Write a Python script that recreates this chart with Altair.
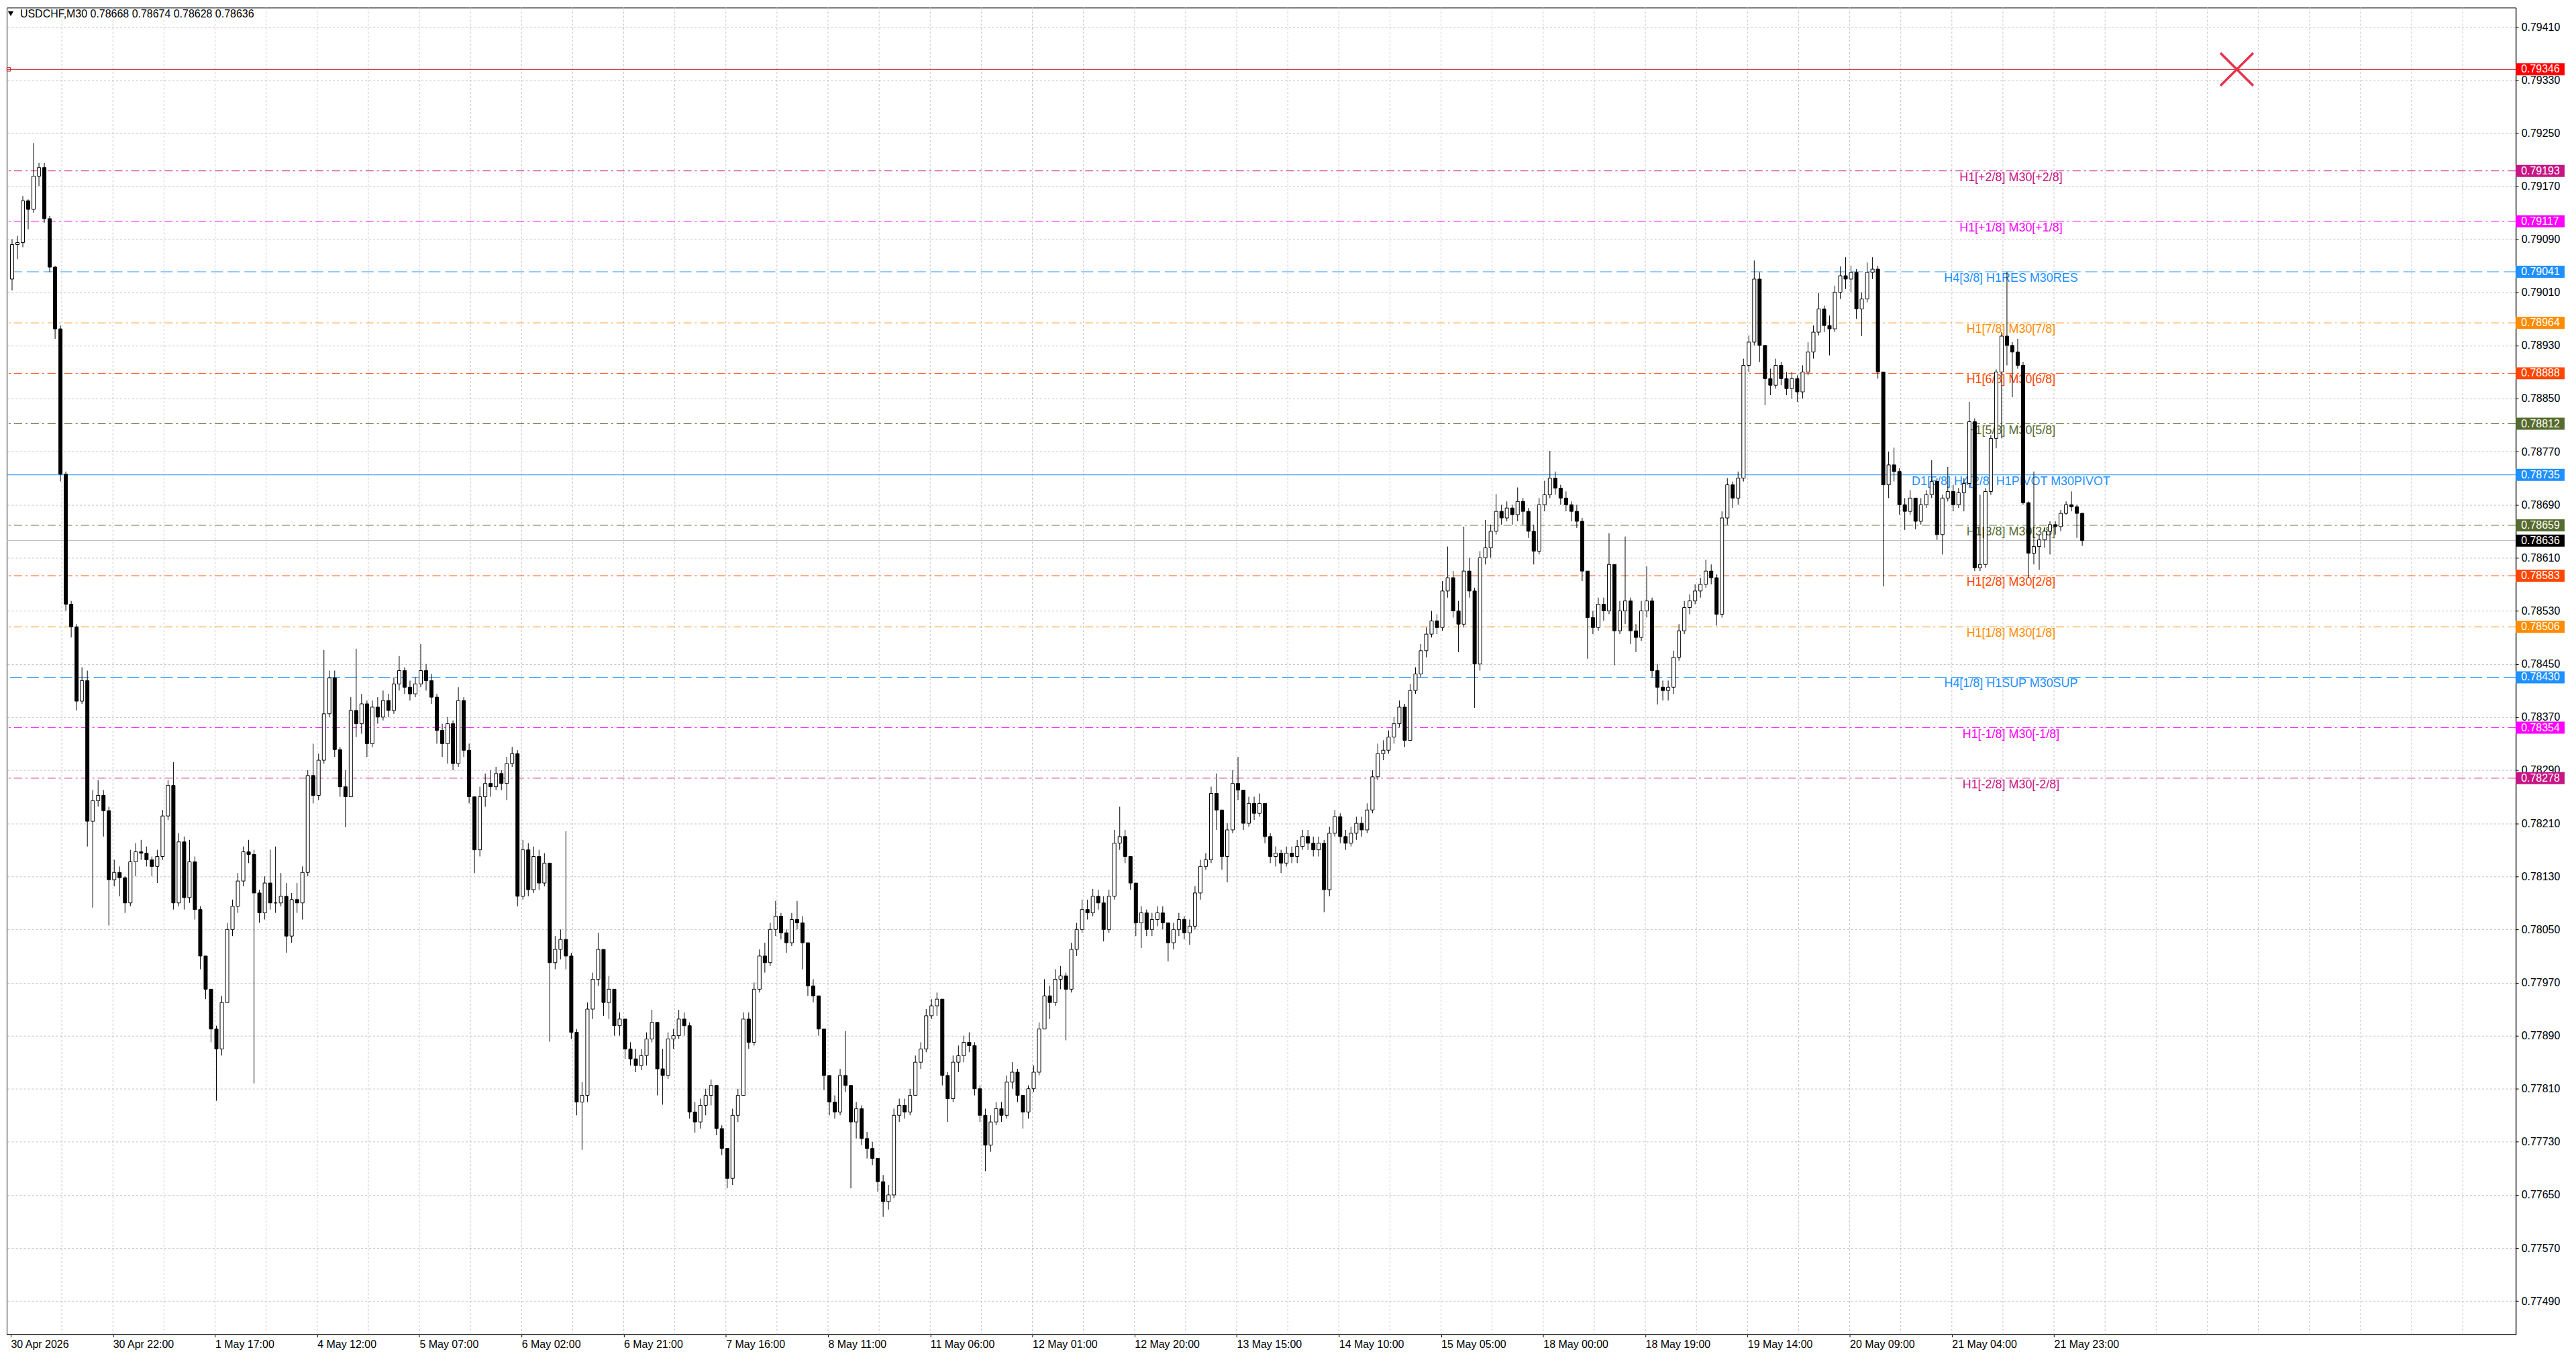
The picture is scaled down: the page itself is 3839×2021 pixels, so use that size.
import altair as alt
import pandas as pd

FONT = "Liberation Sans"
BASE = 0.77          # prices below are in points (0.00001) above 0.77000
PT = 0.00001

# ---- H1 candles (each spans two M30 slots); open = previous close ----
OPEN0 = 2030
CLOSE = [2082, 2085, 2148, 2135, 2185, 2198, 2121, 2048, 1955, 1736,
         1540, 1506, 1394, 1425, 1213, 1244, 1252, 1229, 1125, 1136,
         1128, 1090, 1152, 1167, 1165, 1155, 1145, 1160, 1221, 1267,
         1090, 1182, 1098, 1152, 1080, 1010, 960, 900, 870, 940,
         1050, 1085, 1123, 1167, 1163, 1105, 1075, 1120, 1090, 1090,
         1100, 1040, 1095, 1090, 1136, 1282, 1252, 1305, 1375, 1429,
         1321, 1265, 1250, 1380, 1360, 1390, 1330, 1385, 1370, 1395,
         1380, 1420, 1440, 1415, 1405, 1420, 1440, 1425, 1400, 1350,
         1330, 1360, 1300, 1395, 1320, 1250, 1170, 1250, 1270, 1265,
         1285, 1270, 1300, 1315, 1100, 1170, 1110, 1160, 1120, 1150,
         1000, 1020, 1035, 1010, 895, 790, 800, 930, 975, 1020,
         940, 960, 905, 915, 870, 855, 845, 860, 885, 910,
         840, 830, 885, 890, 915, 905, 775, 760, 785, 800,
         815, 750, 720, 675, 770, 800, 915, 880, 960, 1010,
         1000, 1050, 1070, 1045, 1030, 1065, 1060, 1030, 965, 950,
         900, 830, 790, 775, 830, 815, 760, 780, 735, 720,
         705, 670, 640, 650, 770, 785, 775, 800, 850, 870,
         920, 935, 945, 830, 795, 850, 860, 880, 875, 810,
         770, 725, 760, 780, 770, 820, 835, 800, 775, 810,
         835, 900, 950, 940, 975, 980, 960, 1020, 1050, 1080,
         1075, 1100, 1090, 1050, 1100, 1180, 1190, 1160, 1120, 1060,
         1075, 1050, 1065, 1075, 1060, 1030, 1050, 1065, 1045, 1055,
         1105, 1145, 1155, 1255, 1230, 1160, 1200, 1270, 1260, 1210,
         1240, 1225, 1240, 1190, 1160, 1165, 1150, 1165, 1160, 1175,
         1190, 1180, 1170, 1180, 1110, 1195, 1220, 1190, 1180, 1195,
         1210, 1200, 1230, 1280, 1315, 1320, 1340, 1360, 1385, 1335,
         1410, 1435, 1470, 1495, 1515, 1505, 1560, 1580, 1530, 1510,
         1590, 1560, 1450, 1610, 1625, 1650, 1680, 1670, 1685, 1675,
         1695, 1680, 1650, 1620, 1690, 1705, 1730, 1715, 1700, 1690,
         1680, 1665, 1590, 1520, 1505, 1540, 1530, 1600, 1500, 1530,
         1545, 1500, 1490, 1530, 1545, 1440, 1415, 1410, 1415, 1460,
         1500, 1535, 1545, 1560, 1570, 1590, 1580, 1525, 1670, 1720,
         1700, 1730, 1900, 1935, 2030, 1930, 1880, 1870, 1900, 1880,
         1865, 1880, 1860, 1890, 1920, 1950, 1985, 1960, 1955, 2010,
         2035, 2030, 2040, 1985, 2000, 2040, 2045, 1890, 1720, 1750,
         1740, 1690, 1680, 1700, 1665, 1690, 1705, 1725, 1645, 1700,
         1710, 1690, 1708, 1722, 1815, 1595, 1600, 1710, 1790, 1890,
         1944, 1930, 1920, 1900, 1693, 1617, 1627, 1637, 1650, 1660,
         1657, 1677, 1690, 1687, 1677, 1636]
HIGH = [2090, 2095, 2155, 2150, 2235, 2205, 2205, 2125, 2050, 1960,
        1740, 1545, 1510, 1445, 1440, 1260, 1275, 1260, 1235, 1155,
        1145, 1130, 1170, 1180, 1185, 1175, 1160, 1170, 1230, 1275,
        1302, 1195, 1190, 1185, 1160, 1085, 1000, 940, 905, 950,
        1060, 1095, 1135, 1175, 1185, 1170, 1110, 1130, 1170, 1175,
        1135, 1120, 1105, 1120, 1145, 1290, 1330, 1315, 1471, 1440,
        1440, 1325, 1290, 1400, 1473, 1405, 1395, 1395, 1400, 1410,
        1405, 1430, 1462, 1445, 1425, 1430, 1480, 1450, 1435, 1405,
        1360, 1370, 1365, 1415, 1400, 1330, 1250, 1265, 1285, 1290,
        1295, 1290, 1310, 1325, 1320, 1185, 1180, 1175, 1170, 1165,
        1150, 1040, 1050, 1198, 1015, 900, 820, 940, 985, 1045,
        1020, 980, 960, 925, 915, 880, 870, 870, 895, 929,
        905, 870, 895, 900, 929, 925, 910, 790, 795, 810,
        824, 815, 755, 720, 780, 810, 925, 925, 970, 1020,
        1030, 1060, 1093, 1075, 1050, 1075, 1093, 1070, 1000, 975,
        950, 900, 830, 800, 840, 897, 815, 790, 785, 745,
        730, 705, 680, 665, 780, 795, 795, 810, 860, 880,
        930, 945, 955, 945, 835, 860, 875, 890, 895, 880,
        815, 780, 770, 790, 790, 830, 850, 840, 800, 815,
        845, 910, 975, 965, 990, 995, 985, 1030, 1060, 1095,
        1095, 1111, 1110, 1100, 1110, 1200, 1235, 1200, 1160, 1120,
        1085, 1080, 1075, 1085, 1085, 1060, 1060, 1075, 1070, 1065,
        1115, 1155, 1165, 1265, 1285, 1230, 1210, 1290, 1310, 1260,
        1250, 1250, 1255, 1240, 1195, 1175, 1170, 1175, 1175, 1185,
        1200, 1200, 1190, 1190, 1185, 1205, 1230, 1225, 1200, 1205,
        1220, 1220, 1240, 1290, 1330, 1335, 1350, 1370, 1395, 1390,
        1420, 1445, 1480, 1505, 1530, 1525, 1575, 1627, 1590, 1545,
        1657, 1610, 1565, 1620, 1667, 1660, 1706, 1690, 1695, 1690,
        1716, 1700, 1685, 1660, 1700, 1726, 1771, 1740, 1720, 1710,
        1695, 1690, 1670, 1590, 1530, 1550, 1550, 1647, 1600, 1545,
        1642, 1550, 1510, 1545, 1597, 1550, 1450, 1425, 1425, 1470,
        1510, 1545, 1555, 1570, 1580, 1607, 1600, 1585, 1680, 1730,
        1725, 1740, 1910, 1945, 2058, 2040, 1930, 1895, 1910, 1905,
        1890, 1890, 1885, 1900, 1935, 1960, 2009, 1990, 1975, 2020,
        2049, 2063, 2050, 2045, 2010, 2055, 2063, 2050, 1890, 1770,
        1776, 1745, 1700, 1712, 1700, 1700, 1712, 1757, 1730, 1705,
        1747, 1720, 1715, 1730, 1845, 1820, 1705, 1715, 1795, 1894,
        1950, 2041, 1935, 1940, 1905, 1695, 1740, 1645, 1655, 1665,
        1665, 1682, 1695, 1710, 1690, 1678]
LOW = [2013, 2060, 2078, 2105, 2130, 2170, 2115, 2040, 1940, 1725,
       1530, 1490, 1380, 1390, 1175, 1083, 1235, 1190, 1056, 1115,
       1100, 1075, 1085, 1130, 1155, 1145, 1130, 1120, 1155, 1215,
       1080, 1085, 1080, 1090, 1065, 990, 945, 880, 792, 860,
       970, 1040, 1075, 1115, 1150, 818, 1060, 1065, 1080, 1075,
       1085, 1015, 1030, 1075, 1065, 1130, 1240, 1245, 1300, 1370,
       1310, 1250, 1204, 1260, 1340, 1345, 1310, 1325, 1360, 1365,
       1370, 1375, 1410, 1405, 1395, 1400, 1415, 1410, 1390, 1330,
       1310, 1300, 1290, 1295, 1310, 1240, 1135, 1160, 1235, 1250,
       1260, 1260, 1245, 1295, 1085, 1095, 1100, 1105, 1110, 1115,
       881, 990, 1005, 990, 885, 770, 718, 790, 915, 965,
       920, 915, 890, 890, 855, 845, 835, 838, 845, 880,
       800, 786, 825, 870, 885, 890, 765, 744, 750, 770,
       785, 740, 710, 660, 665, 760, 800, 870, 875, 955,
       985, 995, 1040, 1035, 1015, 1025, 1050, 990, 950, 940,
       890, 808, 770, 765, 770, 805, 660, 735, 725, 705,
       695, 655, 617, 628, 645, 760, 765, 770, 800, 840,
       865, 915, 920, 815, 760, 790, 835, 850, 865, 800,
       760, 686, 715, 755, 760, 765, 810, 790, 750, 765,
       805, 830, 900, 915, 935, 960, 883, 955, 1010, 1045,
       1065, 1070, 1080, 1032, 1045, 1095, 1170, 1150, 1110, 1040,
       1022, 1040, 1040, 1055, 1050, 1002, 1020, 1040, 1035, 1027,
       1050, 1095, 1140, 1150, 1200, 1140, 1121, 1195, 1245, 1200,
       1205, 1215, 1220, 1180, 1150, 1145, 1135, 1145, 1150, 1150,
       1170, 1170, 1160, 1160, 1076, 1100, 1190, 1180, 1170, 1175,
       1185, 1190, 1195, 1225, 1275, 1305, 1315, 1330, 1355, 1325,
       1335, 1405, 1430, 1460, 1490, 1495, 1500, 1550, 1520, 1468,
       1505, 1550, 1384, 1440, 1600, 1610, 1645, 1660, 1665, 1660,
       1665, 1660, 1640, 1600, 1615, 1680, 1700, 1705, 1690, 1680,
       1665, 1655, 1575, 1458, 1495, 1500, 1515, 1525, 1448, 1495,
       1510, 1480, 1468, 1485, 1520, 1430, 1389, 1395, 1395, 1405,
       1455, 1495, 1525, 1540, 1550, 1565, 1570, 1508, 1520, 1660,
       1685, 1690, 1725, 1890, 1930, 1905, 1840, 1855, 1865, 1870,
       1855, 1850, 1845, 1850, 1885, 1910, 1945, 1950, 1915, 1950,
       2000, 2015, 2010, 1970, 1944, 1995, 2030, 1880, 1567, 1700,
       1725, 1675, 1652, 1675, 1653, 1660, 1685, 1700, 1637, 1615,
       1695, 1680, 1685, 1680, 1715, 1590, 1590, 1595, 1705, 1775,
       1790, 1900, 1852, 1895, 1690, 1580, 1600, 1592, 1625, 1615,
       1645, 1650, 1675, 1680, 1640, 1628]

# ---- axis labels ----
X_TICKS = [0, 38, 76, 114, 152, 190, 228, 266, 304, 342, 380,
           418, 456, 494, 532, 570, 608, 646, 684, 722, 760]
X_LABELS = ["30 Apr 2026", "30 Apr 22:00", "1 May 17:00", "4 May 12:00",
            "5 May 07:00", "6 May 02:00", "6 May 21:00", "7 May 16:00",
            "8 May 11:00", "11 May 06:00", "12 May 01:00", "12 May 20:00",
            "13 May 15:00", "14 May 10:00", "15 May 05:00", "18 May 00:00",
            "18 May 19:00", "19 May 14:00", "20 May 09:00", "21 May 04:00",
            "21 May 23:00"]
Y_TICKS = [0.77490, 0.77570, 0.77650, 0.77730, 0.77810, 0.77890, 0.77970,
           0.78050, 0.78130, 0.78210, 0.78290, 0.78370, 0.78450, 0.78530,
           0.78610, 0.78690, 0.78770, 0.78850, 0.78930, 0.79010, 0.79090,
           0.79170, 0.79250, 0.79330, 0.79410]

# ---- Murrey-style levels ----
LEVEL_PRICES = [0.79193, 0.79117, 0.79041, 0.78964, 0.78888, 0.78812, 0.78735,
                0.78659, 0.78583, 0.78506, 0.78430, 0.78354, 0.78278]
LEVEL_NAMES = ["H1[+2/8] M30[+2/8]", "H1[+1/8] M30[+1/8]", "H4[3/8] H1RES M30RES",
               "H1[7/8] M30[7/8]", "H1[6/8] M30[6/8]", "H1[5/8] M30[5/8]",
               "D1[5/8] H4[2/8] H1PIVOT M30PIVOT", "H1[3/8] M30[3/8]",
               "H1[2/8] M30[2/8]", "H1[1/8] M30[1/8]", "H4[1/8] H1SUP M30SUP",
               "H1[-1/8] M30[-1/8]", "H1[-2/8] M30[-2/8]"]
LEVEL_COLORS = ["#C71585", "#FF00FF", "#1E90FF", "#FF8C00", "#FF4500", "#556B2F",
                "#1E90FF", "#556B2F", "#FF4500", "#FF8C00", "#1E90FF", "#FF00FF",
                "#C71585"]
LEVEL_STYLES = ["dashdot", "dashdot", "dash", "dashdot", "dashdot", "dashdot", "solid",
                "dashdot", "dashdot", "dashdot", "dash", "dashdot", "dashdot"]
STOP_PRICE = 0.79346
BID_PRICE = 0.78636
LABEL_T = 744
XMARK_T = 828
TITLE = "USDCHF,M30  0.78668 0.78674 0.78628 0.78636"

# ---- layout ----
W, H = 3748, 1982
XS = alt.Scale(domain=[-0.25, 930.5], nice=False, zero=False)
YS = alt.Scale(domain=[0.77440, 0.79439], nice=False, zero=False)

label_expr = "[" + ",".join("'" + s + "'" for s in X_LABELS) + "][round(datum.value/38)]"
X_AX = alt.Axis(values=X_TICKS, labelExpr=label_expr, grid=False, tickSize=4,
                tickColor="black", domainColor="black", labelAlign="left",
                labelBaseline="top", labelPadding=3, labelFont=FONT, labelFontSize=16,
                labelColor="black", labelFlush=False, labelOverlap=False,
                labelBound=False, title=None)
Y_AX = alt.Axis(orient="right", values=Y_TICKS, format=".5f", grid=True,
                gridColor="#c4c4c4", gridDash=[3, 3], gridWidth=1, tickSize=4,
                tickColor="black", domainColor="black", labelPadding=4,
                labelFont=FONT, labelFontSize=16, labelColor="black",
                labelOverlap=False, labelFlush=False, labelBound=False, title=None)


def X(f):
    return alt.X(f, type="quantitative", scale=XS, axis=X_AX)


def Y(f):
    return alt.Y(f, type="quantitative", scale=YS, axis=Y_AX)


# candle table
rows = []
prev = OPEN0
for j, c in enumerate(CLOSE):
    o = prev
    h = max(HIGH[j], o, c)
    l = min(LOW[j], o, c)
    rows.append({"t": 2 * j + 0.5, "o": BASE + o * PT, "c": BASE + c * PT,
                 "h": BASE + h * PT, "l": BASE + l * PT, "up": c >= o})
    prev = c
candles = pd.DataFrame(rows)

levels = pd.DataFrame({"price": LEVEL_PRICES, "name": LEVEL_NAMES,
                       "color": LEVEL_COLORS, "style": LEVEL_STYLES,
                       "lx": [LABEL_T] * len(LEVEL_PRICES)})
boxes = pd.DataFrame({"price": [STOP_PRICE] + LEVEL_PRICES + [BID_PRICE],
                      "box": ["#FF0000"] + LEVEL_COLORS + ["#000000"]})

vgrid = alt.Chart(pd.DataFrame({"t": [19 * k for k in range(1, 49)]})).mark_rule(
    color="#c4c4c4", strokeDash=[3, 3], strokeWidth=1).encode(x=X("t"))

layers = [vgrid]
for style, dash in [("dashdot", [12, 5, 3, 5]), ("dash", [18, 7]), ("solid", None)]:
    kw = {"strokeWidth": 1}
    if dash:
        kw["strokeDash"] = dash
    layers.append(alt.Chart(levels).transform_filter(alt.datum.style == style)
                  .mark_rule(**kw)
                  .encode(y=Y("price"), color=alt.Color("color:N", scale=None)))

stop_line = alt.Chart(pd.DataFrame({"price": [STOP_PRICE]})).mark_rule(
    color="#c41e1e", strokeWidth=1).encode(y=Y("price"))
bid_line = alt.Chart(pd.DataFrame({"price": [BID_PRICE]})).mark_rule(
    color="#b8b8b8", strokeWidth=1).encode(y=Y("price"))
stop_sq = alt.Chart(pd.DataFrame({"price": [STOP_PRICE]})).mark_point(
    shape="square", size=30, filled=False, color="#c41e1e", strokeWidth=1,
    opacity=1).encode(x=alt.value(3), y=Y("price"))

level_text = alt.Chart(levels).mark_text(
    align="center", baseline="top", dy=1, font=FONT, fontSize=18).encode(
    x=X("lx"), y=Y("price"), text="name:N", color=alt.Color("color:N", scale=None))

wicks = alt.Chart(candles).mark_rule(color="black", strokeWidth=1).encode(
    x=X("t"), y=Y("l"), y2="h")
bodies = alt.Chart(candles).mark_bar(width=5, stroke="black", strokeWidth=1).encode(
    x=X("t"), y=Y("o"), y2="c",
    fill=alt.condition("datum.up", alt.value("white"), alt.value("black")))

box_rules = alt.Chart(boxes).mark_rule(strokeWidth=18, strokeCap="butt").encode(
    y=Y("price"), x=alt.value(W), x2=alt.value(W + 73),
    color=alt.Color("box:N", scale=None))
box_text = alt.Chart(boxes).mark_text(
    align="left", baseline="middle", font=FONT, fontSize=16, color="white").encode(
    y=Y("price"), x=alt.value(W + 8), text=alt.Text("price:Q", format=".5f"))

xmark = alt.Chart(pd.DataFrame({"t": [XMARK_T], "price": [STOP_PRICE]})).mark_point(
    shape="M-1,-1L1,1M-1,1L1,-1", size=2400, filled=False, stroke="#e8304a",
    strokeWidth=3.5, opacity=1).encode(x=X("t"), y=Y("price"))

tri = alt.Chart(pd.DataFrame({"k": [0]})).mark_point(
    shape="triangle-down", size=70, filled=True, color="black", opacity=1).encode(
    x=alt.value(6), y=alt.value(9))
title = alt.Chart(pd.DataFrame({"txt": [TITLE]})).mark_text(
    align="left", baseline="middle", font=FONT, fontSize=16, color="black").encode(
    x=alt.value(20), y=alt.value(10), text="txt:N")

layers += [stop_line, bid_line, stop_sq, level_text, wicks, bodies,
           box_rules, box_text, xmark, tri, title]

chart = alt.layer(*layers).properties(
    width=W, height=H, padding=0, background="white"
).configure_view(stroke="black", strokeWidth=1)

chart.save("out.html", embed_options={"renderer": "svg", "actions": False})
